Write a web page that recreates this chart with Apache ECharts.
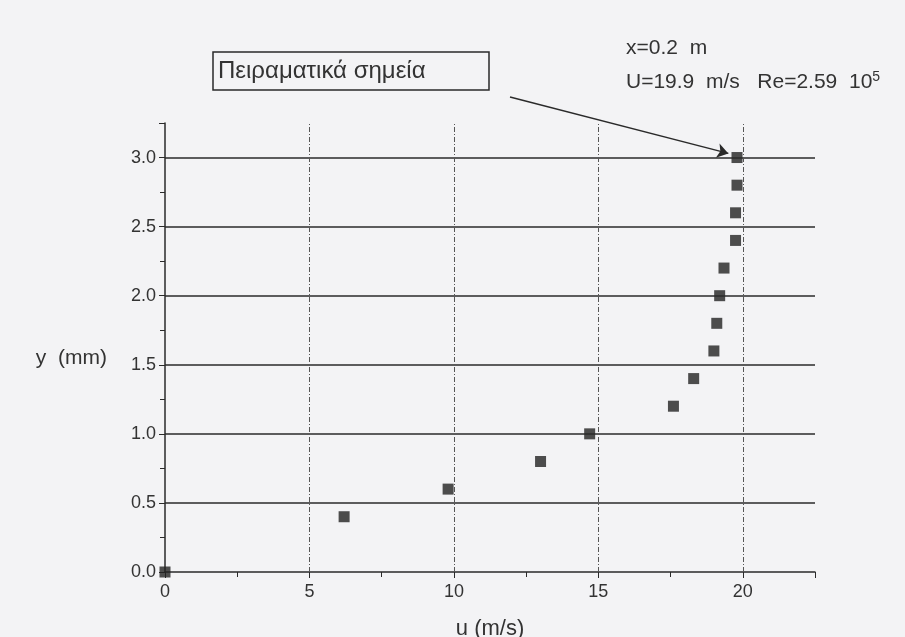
<!DOCTYPE html>
<html>
<head>
<meta charset="utf-8">
<script src="https://cdn.jsdelivr.net/npm/echarts@6/dist/echarts.min.js"></script>
<style>
  html, body { margin: 0; background: #f3f3f5; }
  #chart { width: 905px; height: 637px; }
</style>
</head>
<body>
<div id="chart"></div>
<script>
// measured velocity profile (u in m/s, y in mm)
const uValues = [0, 6.2, 9.8, 13.0, 14.7, 17.6, 18.3, 19.0, 19.1, 19.2, 19.35, 19.75, 19.75, 19.8, 19.8];
const yValues = [0, 0.4, 0.6, 0.8, 1.0, 1.2, 1.4, 1.6, 1.8, 2.0, 2.2, 2.4, 2.6, 2.8, 3.0];
const hGridValues = [0.5, 1.0, 1.5, 2.0, 2.5, 3.0];
const vGridValues = [5, 10, 15, 20];
const pointerTip = [19.5, 3.03];

const ink = '#2a2a2a';
const font = 'Liberation Sans, Arial, sans-serif';

const chart = echarts.init(document.getElementById('chart'));

chart.setOption({
  backgroundColor: '#f3f3f5',
  animation: false,
  grid: { left: 165, right: 90, top: 123, bottom: 65, outerBoundsMode: 'none', containLabel: false },
  xAxis: {
    type: 'value',
    min: 0,
    max: 22.5,
    interval: 5,
    name: 'u (m/s)',
    nameLocation: 'middle',
    nameGap: 46,
    nameTextStyle: { fontFamily: font, fontSize: 22, color: '#333' },
    axisLine: { lineStyle: { color: ink, width: 1.5 } },
    axisTick: { length: 6, lineStyle: { color: ink } },
    minorTick: { show: true, splitNumber: 2, length: 5, lineStyle: { color: ink } },
    axisLabel: { showMaxLabel: false, margin: 11, fontFamily: font, fontSize: 18, color: '#333' },
    splitLine: { show: false }
  },
  yAxis: {
    type: 'value',
    min: 0,
    max: 3.25,
    interval: 0.5,
    name: 'y  (mm)',
    nameLocation: 'middle',
    nameRotate: 0,
    nameGap: 58,
    nameTextStyle: { fontFamily: font, fontSize: 21, color: '#333', verticalAlign: 'top' },
    axisLine: { lineStyle: { color: ink, width: 1.5 } },
    axisTick: { length: 6, lineStyle: { color: ink } },
    minorTick: { show: true, splitNumber: 2, length: 5, lineStyle: { color: ink } },
    axisLabel: {
      showMaxLabel: false,
      margin: 9,
      fontFamily: font,
      fontSize: 18,
      color: '#333',
      formatter: (v) => v.toFixed(1)
    },
    splitLine: { show: false }
  },
  graphic: [
    {
      type: 'rect',
      shape: { x: 213, y: 52, width: 276, height: 38 },
      style: { fill: 'none', stroke: ink, lineWidth: 1.5 }
    },
    {
      type: 'text',
      x: 218,
      y: 71,
      style: { text: 'Πειραματικά σημεία', font: '24px ' + font, fill: '#333', verticalAlign: 'middle' }
    },
    {
      type: 'text',
      x: 626,
      y: 48,
      style: { text: 'x=0.2  m', font: '21px ' + font, fill: '#333', verticalAlign: 'middle' }
    },
    {
      type: 'text',
      x: 626,
      y: 82,
      style: {
        text: 'U=19.9  m/s   Re=2.59  10{sup|5}',
        font: '21px ' + font,
        fill: '#333',
        verticalAlign: 'middle',
        rich: { sup: { fontSize: 14, fontFamily: font, fill: '#333', verticalAlign: 'top', padding: [0, 0, 10, 0] } }
      }
    }
  ],
  series: [
    {
      name: 'grid',
      type: 'line',
      data: [],
      markLine: {
        silent: true,
        symbol: 'none',
        label: { show: false },
        data: [
          ...hGridValues.map((v) => ({ yAxis: v, lineStyle: { color: ink, width: 1.5, type: 'solid' } })),
          ...vGridValues.map((v) => ({ xAxis: v, lineStyle: { color: '#555', width: 1, type: [5, 2, 1, 2] } }))
        ]
      }
    },
    {
      name: 'Πειραματικά σημεία',
      type: 'scatter',
      clip: false,
      symbol: 'rect',
      symbolSize: 11,
      itemStyle: { color: '#222' },
      data: uValues.map((u, i) => [u, yValues[i]]),
      markLine: {
        silent: true,
        symbol: ['none', 'arrow'],
        symbolSize: 11,
        label: { show: false },
        lineStyle: { color: ink, width: 1.5, type: 'solid' },
        data: [[{ x: 510, y: 97 }, { coord: pointerTip }]]
      }
    }
  ]
});
</script>
</body>
</html>
